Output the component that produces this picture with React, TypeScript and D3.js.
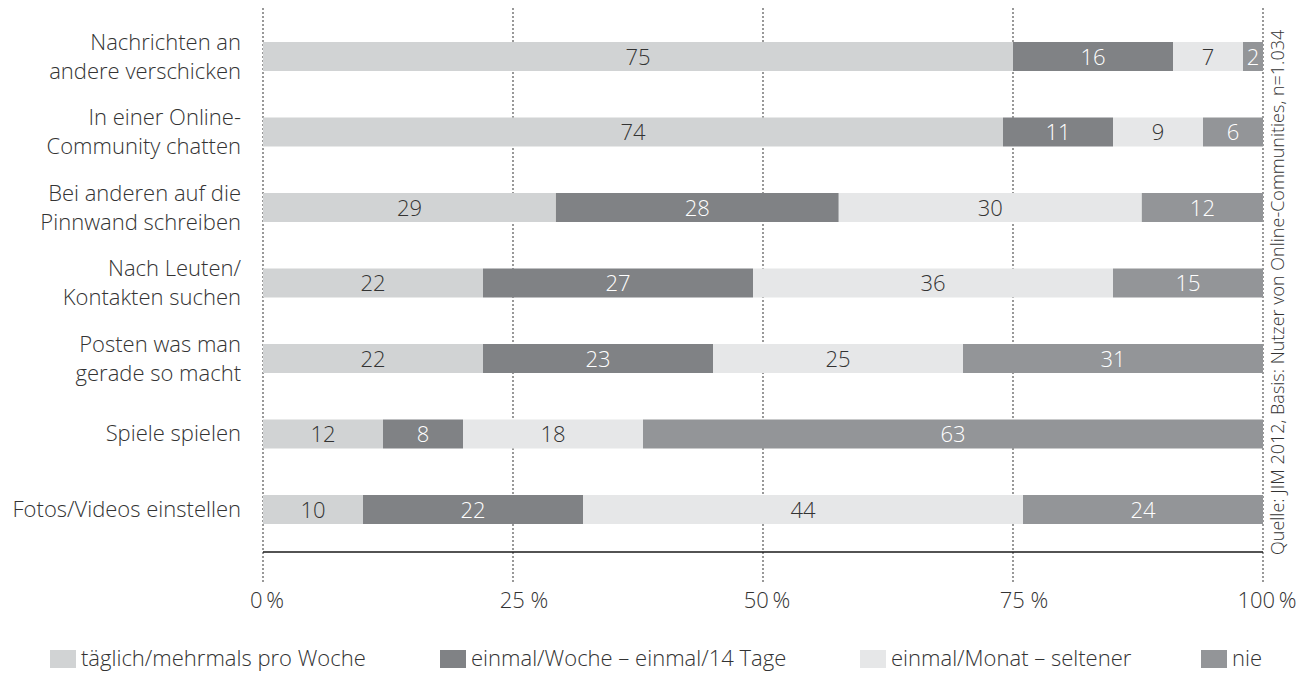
import React from "react";
import * as d3 from "d3";

const categories = [
  "Nachrichten an\nandere verschicken",
  "In einer Online-\nCommunity chatten",
  "Bei anderen auf die\nPinnwand schreiben",
  "Nach Leuten/\nKontakten suchen",
  "Posten was man\ngerade so macht",
  "Spiele spielen",
  "Fotos/Videos einstellen",
];

const seriesNames = [
  "täglich/mehrmals pro Woche",
  "einmal/Woche – einmal/14 Tage",
  "einmal/Monat – seltener",
  "nie",
];

const taeglich = [75, 74, 29, 22, 22, 12, 10];
const woechentlich = [16, 11, 28, 27, 23, 8, 22];
const monatlich = [7, 9, 30, 36, 25, 18, 44];
const nie = [2, 6, 12, 15, 31, 63, 24];

const tickValues = [0, 25, 50, 75, 100];
const tickLabels = ["0\u2009%", "25 %", "50\u2009%", "75 %", "100\u2009%"];

const sourceText = "Quelle: JIM 2012, Basis: Nutzer von Online-Communities, n=1.034";

const colors = ["#d1d3d4", "#808285", "#e6e7e8", "#939598"];
const textColors = ["#333333", "#ffffff", "#333333", "#ffffff"];

const FONT = "'Open Sans', sans-serif";

export default function App() {
  const W = 1311;
  const H = 675;
  const x = d3.scaleLinear().domain([0, 100]).range([263, 1263]);
  const y = d3
    .scalePoint<number>()
    .domain(categories.map((_, i) => i))
    .range([56.5, 509.5]);
  const barH = 29;
  const fs = 22;

  const series = [taeglich, woechentlich, monatlich, nie];

  const rows = categories.map((cat, i) => {
    const vals = series.map((s) => s[i]);
    const sum = d3.sum(vals);
    const f = sum < 100 ? 100 / sum : 1;
    let cum = 0;
    const segs = vals.map((v, k) => {
      const start = Math.min(cum, 100);
      cum += v * f;
      const end = k === vals.length - 1 ? 100 : Math.min(cum, 100);
      return { k, v, start, end };
    });
    return { cat, segs, cy: y(i) as number };
  });

  const legendX = [50, 440, 860, 1201];

  return (
    <svg
      width={W}
      height={H}
      style={{ position: "absolute", left: 0, top: 0, background: "#fff" }}
      fontFamily={FONT}
    >
      {tickValues.map((t) => (
        <line
          key={"g" + t}
          x1={x(t)}
          x2={x(t)}
          y1={8}
          y2={584}
          stroke="#555"
          strokeWidth={1.2}
          strokeDasharray="2 2"
        />
      ))}
      {rows.map((r, i) => (
        <g key={"r" + i}>
          {r.segs.map((s) => (
            <rect
              key={s.k}
              x={x(s.start)}
              y={r.cy - barH / 2}
              width={x(s.end) - x(s.start)}
              height={barH}
              fill={colors[s.k]}
            />
          ))}
          {r.segs.map((s) => (
            <text
              key={"t" + s.k}
              x={(x(s.start) + x(s.end)) / 2}
              y={r.cy + 8}
              textAnchor="middle"
              fontSize={fs}
              fontWeight={300}
              fill={textColors[s.k]}
            >
              {s.v}
            </text>
          ))}
          {(() => {
            const lines = r.cat.split("\n");
            const base = lines.length === 1 ? [r.cy + 7] : [r.cy - 7, r.cy + 22];
            return lines.map((ln, j) => (
              <text
                key={"c" + j}
                x={241}
                y={base[j]}
                textAnchor="end"
                fontSize={fs}
                fontWeight={300}
                fill="#333"
              >
                {ln}
              </text>
            ));
          })()}
        </g>
      ))}
      <line x1={x(0)} x2={x(100)} y1={552} y2={552} stroke="#1a1a1a" strokeWidth={1.5} />
      {tickValues.map((t, i) => (
        <text
          key={"tl" + t}
          x={x(t) + (tickLabels[i].includes(" ") ? 11 : 4)}
          y={608}
          textAnchor="middle"
          fontSize={fs}
          fontWeight={300}
          fill="#333"
        >
          {tickLabels[i]}
        </text>
      ))}
      <text
        transform="translate(1284,555) rotate(-90)"
        fontSize={18}
        fontWeight={300}
        fill="#333"
      >
        {sourceText}
      </text>
      {seriesNames.map((n, k) => (
        <g key={"l" + k}>
          <rect x={legendX[k]} y={650} width={26} height={18} fill={colors[k]} />
          <text x={legendX[k] + 31} y={666} fontSize={fs} fontWeight={300} fill="#333">
            {n}
          </text>
        </g>
      ))}
    </svg>
  );
}
